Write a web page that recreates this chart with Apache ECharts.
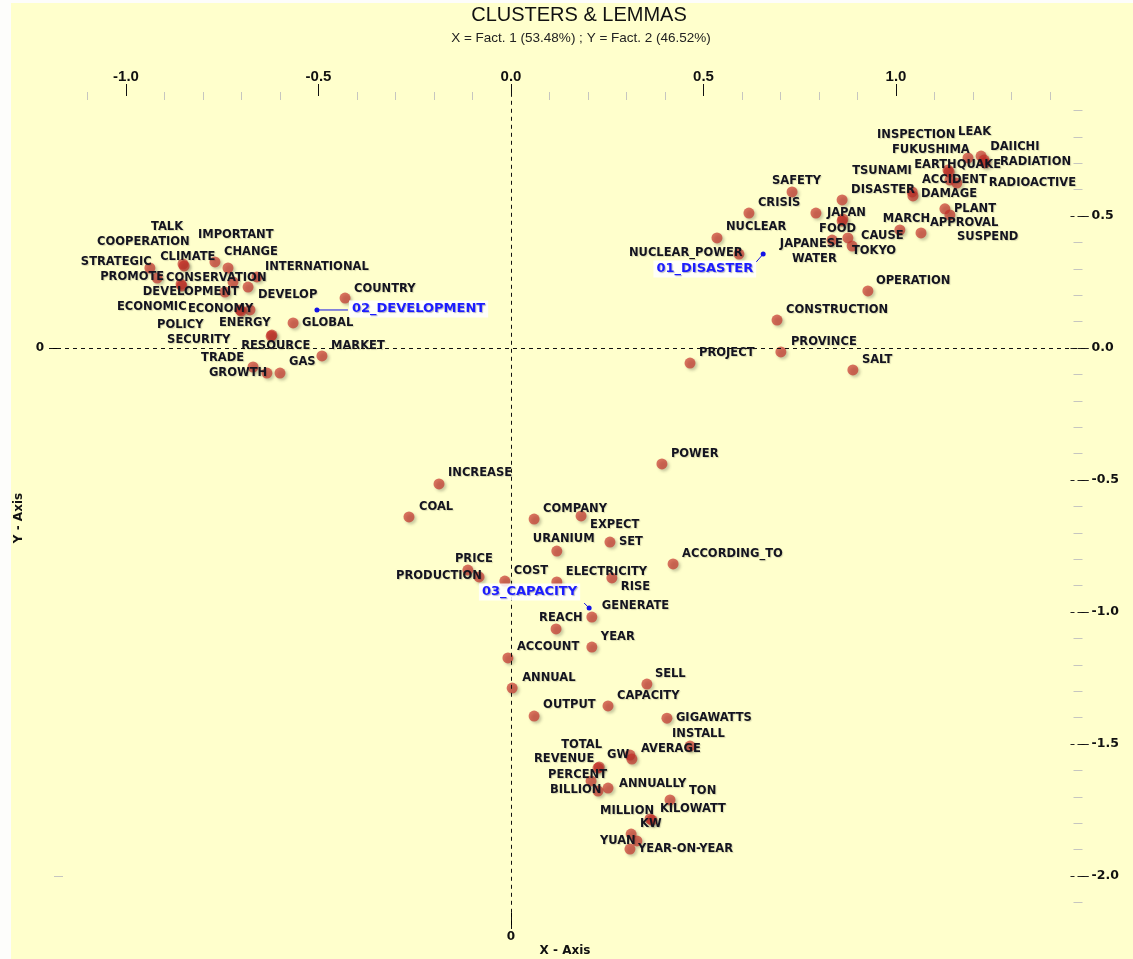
<!DOCTYPE html>
<html>
<head>
<meta charset="utf-8">
<script src="https://cdn.jsdelivr.net/npm/echarts@6/dist/echarts.min.js"></script>
<style>html,body{margin:0;padding:0;background:#fff;}#c{width:1133px;height:959px;}</style>
</head>
<body>
<div id="c"></div>
<script>
// ---------------- DATA ----------------
const disasterWords = ['SAFETY','CRISIS','NUCLEAR','NUCLEAR_POWER','JAPAN','FOOD','JAPANESE','WATER','TOKYO','CAUSE','DISASTER','TSUNAMI','DAMAGE','INSPECTION','LEAK','DAIICHI','RADIATION','FUKUSHIMA','EARTHQUAKE','ACCIDENT','RADIOACTIVE','PLANT','APPROVAL','MARCH','SUSPEND','OPERATION','CONSTRUCTION','PROVINCE','PROJECT','SALT'];
const disasterX = [0.730,0.618,0.535,0.592,0.792,0.834,0.862,0.860,0.875,0.886,0.860,1.042,1.044,1.187,1.221,1.229,1.231,1.135,1.138,1.140,1.158,1.127,1.140,1.010,1.065,0.927,0.691,0.701,0.465,0.888];
const disasterY = [0.591,0.511,0.417,0.356,0.511,0.409,0.489,0.481,0.417,0.386,0.561,0.591,0.576,0.720,0.727,0.712,0.701,0.674,0.667,0.636,0.625,0.527,0.504,0.447,0.436,0.216,0.106,-0.015,-0.057,-0.083];

const developmentWords = ['STRATEGIC','PROMOTE','TALK','CLIMATE','COOPERATION','DEVELOPMENT','IMPORTANT','CHANGE','CONSERVATION','INTERNATIONAL','DEVELOP','ECONOMIC','ECONOMY','POLICY','ENERGY','SECURITY','RESOURCE','GLOBAL','COUNTRY','MARKET','GAS','TRADE','GROWTH'];
const developmentX = [-0.938,-0.919,-0.852,-0.849,-0.857,-0.855,-0.769,-0.735,-0.722,-0.660,-0.683,-0.743,-0.678,-0.704,-0.621,-0.701,-0.623,-0.566,-0.431,-0.491,-0.600,-0.670,-0.634];
const developmentY = [0.303,0.265,0.318,0.311,0.242,0.235,0.326,0.303,0.250,0.269,0.231,0.212,0.144,0.144,0.049,0.140,0.045,0.095,0.189,-0.030,-0.095,-0.072,-0.095];

const capacityWords = ['POWER','INCREASE','COAL','COMPANY','EXPECT','URANIUM','SET','ACCORDING_TO','PRICE','PRODUCTION','COST','ELECTRICITY','RISE','GENERATE','REACH','YEAR','ACCOUNT','ANNUAL','SELL','CAPACITY','OUTPUT','GIGAWATTS','INSTALL','GW','AVERAGE','TOTAL','REVENUE','PERCENT','BILLION','ANNUALLY','TON','MILLION','KILOWATT','KW','YUAN','YEAR-ON-YEAR'];
const capacityX = [0.392,-0.187,-0.265,0.060,0.182,0.119,0.257,0.421,-0.112,-0.083,-0.016,0.119,0.262,0.210,0.117,0.210,-0.008,0.003,0.353,0.252,0.060,0.405,0.465,0.309,0.314,0.229,0.226,0.208,0.226,0.252,0.413,0.361,0.366,0.312,0.327,0.309];
const capacityY = [-0.439,-0.515,-0.640,-0.648,-0.636,-0.769,-0.735,-0.818,-0.841,-0.867,-0.883,-0.886,-0.871,-1.019,-1.064,-1.133,-1.174,-1.288,-1.273,-1.356,-1.394,-1.402,-1.508,-1.542,-1.557,-1.587,-1.591,-1.640,-1.678,-1.667,-1.712,-1.784,-1.788,-1.841,-1.867,-1.898];

const clusterNames = ['01_DISASTER','02_DEVELOPMENT','03_CAPACITY'];
const clusterX = [0.655,-0.504,0.203];
const clusterY = [0.356,0.144,-0.985];

const xMajorTicks = [-1.0,-0.5,0.0,0.5,1.0];
const xMinorTicks = [-1.1,-0.9,-0.8,-0.7,-0.6,-0.4,-0.3,-0.2,-0.1,0.1,0.2,0.3,0.4,0.6,0.7,0.8,0.9,1.1,1.2,1.3,1.4];
const yMajorTicks = [-2.0,-1.5,-1.0,-0.5,0.0,0.5];
const yMinorTicks = [0.9,0.8,0.7,0.6,0.4,0.3,0.2,0.1,-0.1,-0.2,-0.3,-0.4,-0.6,-0.7,-0.8,-0.9,-1.1,-1.2,-1.3,-1.4,-1.6,-1.7,-1.8,-1.9,-2.1];

// ---------------- LAYOUT (label placement, px from point: [left edge dx, middle dy]) ----------------
const disasterLabelShift = [[-20,-11],[9,-10],[9,-11],[-110,-1],[11,0],[-13,-11],[-63,25],[-50,38],[4,13],[9,-10],[9,-10],[-60,-21],[8,-2],[-91,-23],[-23,-24],[6,-13],[15,-1],[-56,-20],[-35,-7],[-28,0],[32,0],[9,0],[-20,8],[-17,-11],[36,4],[8,-10],[9,-10],[10,-10],[9,-10],[9,-10]];
const developmentLabelShift = [[-69,-6],[-57,-1],[-32,-37],[-24,-9],[-84,-42],[-39,6],[-17,-27],[-4,-16],[-67,-4],[8,-10],[10,8],[-108,15],[-62,-1],[-83,15],[-53,-12],[-74,29],[-30,10],[9,0],[9,-9],[9,-10],[9,-11],[-52,-9],[-58,0]];
const capacityLabelShift = [[9,-10],[9,-11],[10,-10],[9,-10],[9,9],[-24,-12],[9,0],[9,-10],[-13,-11],[-83,-1],[9,-10],[9,-10],[9,9],[10,-11],[-17,-11],[9,-10],[9,-11],[10,-10],[8,-10],[9,-10],[9,-11],[9,0],[-18,-12],[-23,0],[9,-10],[-38,-22],[-64,-9],[-43,-6],[-48,-1],[11,-4],[19,-9],[-50,-8],[8,-11],[9,-10],[-37,0],[8,0]];
const clusterLabelLayout = [
  {line:[-7,8], text:[-7,15], align:'right'},
  {line:[31,0], text:[32,-1], align:'left'},
  {line:[-5,-5], text:[-9,-16], align:'right'}
];

const R = 5.5;
const XMIN = -1.2, XMAX = 1.5, YMIN = -2.2, YMAX = 1.0;
const G = {left:49, right:44.5, top:84, bottom:30.2};
const labelFont = 'DejaVu Sans';

function buildPoints(words, xs, ys, shifts){
  return words.map((w,i)=>({
    name:w, value:[xs[i], ys[i]],
    label:{offset:[shifts[i][0]-R, shifts[i][1]]}
  }));
}

const pointStyle = {
  color:'rgba(196,42,36,0.66)', opacity:1,
  shadowColor:'rgba(70,70,50,0.45)', shadowBlur:3, shadowOffsetX:2, shadowOffsetY:2
};
const pointLabel = {
  show:true, position:'right', distance:0, opacity:1,
  formatter:p=>p.name,
  fontFamily:labelFont, fontWeight:'bold', fontSize:11.5, color:'#141420',
  textShadowColor:'rgba(0,0,0,0.15)', textShadowBlur:1, textShadowOffsetX:1, textShadowOffsetY:1
};
function scatterSeries(name, data){
  return {
    type:'scatter', name, xAxisIndex:0, yAxisIndex:0, symbol:'circle', symbolSize:2*R,
    data, itemStyle:pointStyle, label:pointLabel, silent:true, z:3,
    emphasis:{disabled:true}
  };
}

function valAxis(extra, min, max){
  return Object.assign({type:'value', min, max, splitLine:{show:false}, axisLine:{show:false, onZero:false}}, extra);
}

const tickFont = {fontFamily:"'Liberation Sans Narrow','Liberation Sans',Arial", fontWeight:'bold', fontSize:15, color:'#111'};

const option = {
  backgroundColor:'#ffffcc',
  animation:false,
  grid:[Object.assign({},G), Object.assign({},G), Object.assign({},G)],
  xAxis:[
    valAxis({gridIndex:0, position:'top',
      axisTick:{show:true, inside:true, length:12, customValues:xMajorTicks, lineStyle:{color:'#111', width:1}},
      axisLabel:Object.assign({show:true, customValues:xMajorTicks, margin:0, formatter:v=>v.toFixed(1)}, tickFont)}, XMIN, XMAX),
    valAxis({gridIndex:0, position:'bottom',
      axisTick:{show:true, inside:true, length:16, customValues:[0], lineStyle:{color:'#000', width:1}},
      axisLabel:{show:true, customValues:[0], margin:2, formatter:()=> '0', fontFamily:labelFont, fontWeight:'bold', fontSize:12, color:'#111'}}, XMIN, XMAX),
    valAxis({gridIndex:1, position:'top', offset:-8,
      axisTick:{show:true, inside:true, length:8, customValues:xMinorTicks, lineStyle:{color:'#c6c6c0', width:1}},
      axisLabel:{show:false}}, XMIN, XMAX),
    valAxis({gridIndex:1, position:'bottom', show:false}, XMIN, XMAX),
    valAxis({gridIndex:2, position:'top', show:false}, XMIN, XMAX)
  ],
  yAxis:[
    valAxis({gridIndex:0, position:'right',
      axisTick:{show:true, inside:true, length:8, customValues:yMajorTicks, lineStyle:{color:'#111', width:1}},
      axisLabel:{show:true, customValues:yMajorTicks, margin:3, formatter:v=>v.toFixed(1), fontFamily:labelFont, fontWeight:'bold', fontSize:12.5, color:'#111'}}, YMIN, YMAX),
    valAxis({gridIndex:0, position:'left',
      axisTick:{show:true, inside:true, length:10, customValues:[0], lineStyle:{color:'#000', width:1}},
      axisLabel:{show:true, customValues:[0], margin:5, formatter:()=> '0', fontFamily:labelFont, fontWeight:'bold', fontSize:12, color:'#111'}}, YMIN, YMAX),
    valAxis({gridIndex:1, position:'right', offset:-6,
      axisTick:{show:true, inside:true, length:9, customValues:yMinorTicks, lineStyle:{color:'#c6c6c0', width:1}},
      axisLabel:{show:false}}, YMIN, YMAX),
    valAxis({gridIndex:1, position:'left', offset:-5,
      axisTick:{show:true, inside:true, length:9, customValues:[-2.0], lineStyle:{color:'#c6c6c0', width:1}},
      axisLabel:{show:false}}, YMIN, YMAX),
    valAxis({gridIndex:2, position:'right',
      axisTick:{show:true, inside:true, length:18, customValues:yMajorTicks, lineStyle:{color:'#222', width:1, type:[4,3]}},
      axisLabel:{show:false}}, YMIN, YMAX)
  ],
  graphic:[
    {type:'rect', shape:{x:0,y:0,width:11,height:959}, style:{fill:'#fdfdfb'}, silent:true},
    {type:'rect', shape:{x:0,y:0,width:1133,height:3}, style:{fill:'#fdfdfb'}, silent:true},
    {type:'text', x:579, y:15, style:{text:'CLUSTERS & LEMMAS', font:"20px 'Liberation Sans', Arial", fill:'#111', align:'center', verticalAlign:'middle', textAlign:'center', textVerticalAlign:'middle'}, silent:true},
    {type:'text', x:581, y:38, style:{text:'X = Fact. 1 (53.48%) ; Y = Fact. 2 (46.52%)', font:"13.5px 'Liberation Sans', Arial", fill:'#222', align:'center', verticalAlign:'middle', textAlign:'center', textVerticalAlign:'middle'}, silent:true},
    {type:'text', x:565, y:951, style:{text:'X - Axis', font:"bold 12px 'DejaVu Sans'", fill:'#111', align:'center', verticalAlign:'middle', textAlign:'center', textVerticalAlign:'middle'}, silent:true},
    {type:'text', x:19, y:518, rotation:Math.PI/2, style:{text:'Y - Axis', font:"bold 12px 'DejaVu Sans'", fill:'#111', align:'center', verticalAlign:'middle', textAlign:'center', textVerticalAlign:'middle'}, silent:true}
  ],
  series:[
    {
      type:'scatter', xAxisIndex:0, yAxisIndex:0, data:[], silent:true,
      markLine:{
        silent:true, symbol:['none','none'], animation:false,
        label:{show:false},
        lineStyle:{color:'#111', width:1, type:[4,4]},
        emphasis:{disabled:true},
        data:[{xAxis:0},{yAxis:0}]
      }
    },
    scatterSeries('disaster', buildPoints(disasterWords, disasterX, disasterY, disasterLabelShift)),
    scatterSeries('development', buildPoints(developmentWords, developmentX, developmentY, developmentLabelShift)),
    scatterSeries('capacity', buildPoints(capacityWords, capacityX, capacityY, capacityLabelShift)),
    {
      type:'custom', xAxisIndex:0, yAxisIndex:0, silent:true, z:10,
      data:clusterNames.map((n,i)=>[clusterX[i], clusterY[i]]),
      renderItem:function(params, api){
        const i = params.dataIndex;
        const p = api.coord([api.value(0), api.value(1)]);
        const L = clusterLabelLayout[i];
        return {type:'group', children:[
          {type:'line', shape:{x1:p[0], y1:p[1], x2:p[0]+L.line[0], y2:p[1]+L.line[1]}, style:{stroke:'#1414e6', lineWidth:1}},
          {type:'circle', shape:{cx:p[0], cy:p[1], r:2.5}, style:{fill:'#1414e6'}},
          {type:'text', x:p[0]+L.text[0], y:p[1]+L.text[1], style:{
            text:clusterNames[i], font:"bold 13px 'DejaVu Sans'", fill:'#1c1cff',
            align:L.align, verticalAlign:'middle', textAlign:L.align, textVerticalAlign:'middle',
            backgroundColor:'rgba(255,255,255,0.85)', padding:[2,3],
            textShadowColor:'rgba(0,0,80,0.3)', textShadowBlur:1, textShadowOffsetX:1, textShadowOffsetY:1
          }}
        ]};
      }
    }
  ]
};

const chart = echarts.init(document.getElementById('c'), null, {renderer:'canvas'});
chart.setOption(option);
</script>
</body>
</html>
